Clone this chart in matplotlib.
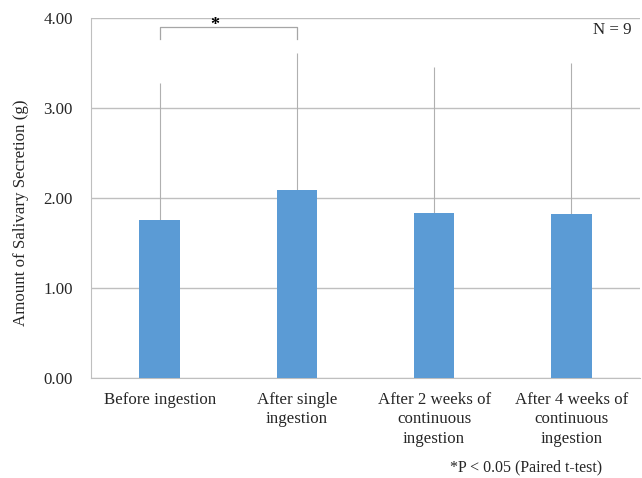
import matplotlib
matplotlib.use("Agg")
import matplotlib.pyplot as plt
import numpy as np

plt.rcParams['font.family'] = ['Liberation Serif', 'DejaVu Serif']

categories = [
    "Before ingestion",
    "After single\ningestion",
    "After 2 weeks of\ncontinuous\ningestion",
    "After 4 weeks of\ncontinuous\ningestion",
]
means = [1.76, 2.09, 1.83, 1.82]
sds = [1.52, 1.52, 1.63, 1.68]
y_ticks = [0.0, 1.0, 2.0, 3.0, 4.0]

bar_color = "#5B9BD5"
grid_color = "#BFBFBF"
text_color = "#262626"

fig = plt.figure(figsize=(6.42, 4.78), dpi=100)
ax = fig.add_axes([91 / 642, 1 - 378 / 478, 549 / 642, 360 / 478])

x = np.arange(len(categories))
ax.bar(x, means, width=0.295, color=bar_color, zorder=3)
# upper-only error bars, no caps
ax.errorbar(x, means, yerr=[np.zeros(len(sds)), sds], fmt="none",
            ecolor="#B0B0B0", elinewidth=0.8, capsize=0, zorder=2)

ax.set_xlim(-0.5, len(categories) - 0.5)
ax.set_ylim(0, 4.0)
ax.set_yticks(y_ticks)
ax.set_yticklabels([f"{v:.2f}" for v in y_ticks], fontsize=12.2, color=text_color)
ax.set_xticks(x)
ax.set_xticklabels(categories, fontsize=12.2, color=text_color, linespacing=1.3)
ax.tick_params(axis="both", length=0)
ax.tick_params(axis="y", pad=13)
ax.tick_params(axis="x", pad=10)

ax.grid(axis="y", color=grid_color, linewidth=1.0, zorder=0)
for side in ["top", "right"]:
    ax.spines[side].set_visible(False)
ax.spines["left"].set_color(grid_color)
ax.spines["bottom"].set_color(grid_color)

ax.set_ylabel("Amount of Salivary Secretion (g)", fontsize=12.2, color=text_color)
ax.yaxis.set_label_coords(-0.113, 0.46)

# significance bracket between first two groups
ax.plot([0, 0, 1, 1], [3.77, 3.90, 3.90, 3.77], color="#A6A6A6", linewidth=0.9, zorder=4)
ax.text(0.4, 3.915, "*", fontsize=13, fontweight="bold", ha="center", va="center")

ax.text(0.985, 0.968, "N = 9", transform=ax.transAxes, fontsize=12.2,
        ha="right", va="center", color=text_color)

fig.text(526 / 642, 1 - 467 / 478, "*P < 0.05 (Paired t-test)", fontsize=11.5,
         ha="center", va="center", color=text_color)

fig.savefig("out.png", dpi=100)
